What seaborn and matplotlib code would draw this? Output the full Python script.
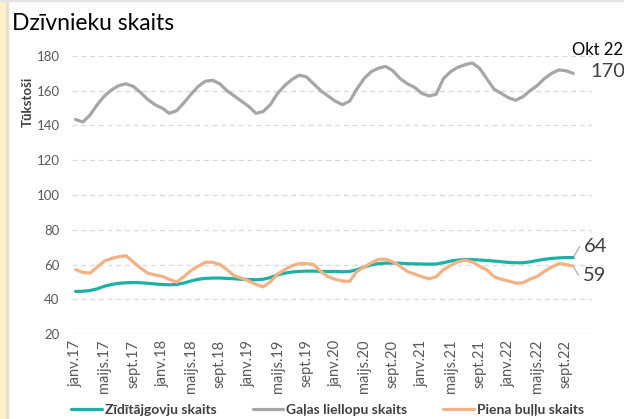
import numpy as np
import pandas as pd
import matplotlib
matplotlib.use("Agg")
import matplotlib.pyplot as plt
import seaborn as sns
from matplotlib.patches import Rectangle

# monthly data, janv.2017 - okt.2022 (thousands)
zidit = [44.5, 44.6, 45.0, 46.0, 47.5, 48.5, 49.2, 49.5, 49.6, 49.5, 49.2, 48.8,
         48.5, 48.3, 48.5, 49.3, 50.5, 51.5, 52.0, 52.2, 52.2, 52.0, 51.8, 51.5,
         51.3, 51.2, 51.5, 52.5, 54.0, 55.0, 55.7, 56.0, 56.2, 56.2, 56.0, 56.0,
         56.0, 55.8, 56.0, 57.0, 58.5, 59.8, 60.5, 60.8, 60.8, 60.7, 60.5, 60.4,
         60.3, 60.2, 60.3, 61.0, 62.0, 62.6, 62.8, 62.8, 62.6, 62.3, 62.0, 61.6,
         61.2, 61.0, 61.0, 61.5, 62.3, 63.0, 63.5, 63.8, 64.0, 64.0]
galas = [143.5, 142.0, 146.0, 152.0, 157.0, 160.5, 163.0, 164.0, 162.5, 159.0, 155.0, 152.0,
         150.0, 147.0, 148.5, 153.0, 158.0, 162.5, 165.5, 166.0, 164.0, 160.0, 157.0, 154.0,
         151.0, 147.0, 148.0, 152.0, 158.5, 163.0, 166.5, 169.0, 168.0, 164.0, 160.0, 157.0,
         154.0, 152.0, 154.0, 161.0, 167.0, 171.0, 173.0, 174.0, 171.5, 167.0, 164.0, 162.0,
         158.5, 157.0, 158.0, 167.0, 171.0, 173.5, 175.0, 176.0, 173.0, 167.0, 161.0, 158.5,
         156.0, 154.5, 156.5, 160.0, 163.0, 167.0, 170.0, 172.0, 171.5, 170.0]
piena = [57.0, 55.5, 55.0, 58.5, 62.0, 63.5, 64.5, 65.0, 61.5, 58.0, 55.0, 54.0,
         53.2, 51.5, 49.8, 53.0, 56.5, 59.0, 61.3, 61.3, 60.0, 57.0, 53.5, 52.2,
         50.5, 48.5, 47.1, 50.0, 54.5, 57.0, 59.3, 60.5, 60.5, 60.0, 56.0, 53.0,
         51.5, 50.5, 50.3, 56.0, 58.5, 61.0, 63.0, 63.0, 61.5, 59.0, 56.0, 54.5,
         53.0, 51.7, 53.0, 57.0, 59.5, 61.5, 62.5, 61.5, 59.0, 57.0, 53.0, 51.5,
         50.5, 49.3, 49.5, 51.5, 53.1, 56.0, 58.5, 60.5, 60.0, 59.0]

series_names = ["Zīdītājgovju skaits", "Gaļas liellopu skaits", "Piena buļļu skaits"]
colors = ["#1BB2A5", "#A6A6A6", "#F4B183"]
tick_labels = ["janv.17", "maijs.17", "sept.17", "janv.18", "maijs.18", "sept.18",
               "janv.19", "maijs.19", "sept.19", "janv.20", "maijs.20", "sept.20",
               "janv.21", "maijs.21", "sept.21", "janv.22", "maijs.22", "sept.22"]

n = len(zidit)
df = pd.DataFrame({
    "month": np.tile(np.arange(n), 3),
    "value": zidit + galas + piena,
    "series": np.repeat(series_names, n),
})

sns.set_style("white")
plt.rcParams["font.family"] = ["Lato", "DejaVu Sans"]

fig = plt.figure(figsize=(6.24, 4.19), dpi=100)
# beige strip at the left edge + thin top border
fig.patches.append(Rectangle((0, 0), 6 / 624, 1, transform=fig.transFigure,
                             color="#FFF2CC", zorder=0))
fig.patches.append(Rectangle((6 / 624, 0), 1.5 / 624, 1, transform=fig.transFigure,
                             color="#E6E0D0", zorder=0))
fig.patches.append(Rectangle((0, 1 - 1.5 / 419), 1, 1.5 / 419, transform=fig.transFigure,
                             color="#E3E3E3", zorder=0))

ax = fig.add_axes([72 / 624, 1 - 334 / 419, 520 / 624, 278 / 419])
sns.lineplot(data=df, x="month", y="value", hue="series", palette=colors,
             linewidth=2.3, ax=ax, legend=False)

ax.set_ylim(20, 180)
ax.set_xlim(-0.5, 71.6)
ax.set_yticks(range(20, 181, 20))
for y in range(40, 181, 20):
    ax.axhline(y, color="#D9D9D9", lw=0.9, ls=(0, (4, 3)), zorder=0)
ax.axhline(20, color="#D9D9D9", lw=1.0, zorder=0)
for s in ax.spines.values():
    s.set_visible(False)
ax.set_xticks(np.arange(0, n, 4))
ax.set_xticklabels(tick_labels, rotation=90, fontsize=10.5, color="#595959")
ax.tick_params(axis="y", labelsize=9.5, labelcolor="#595959", length=0, pad=9)
ax.tick_params(axis="x", length=0, pad=4)
ax.set_xlabel("")
ax.set_ylabel("")

fig.text(12 / 624, 1 - 23 / 419, "Dzīvnieku skaits", fontsize=16.5, color="black",
         va="center", ha="left")
fig.text(28 / 624, 1 - 102 / 419, "Tūkstoši", rotation=90, fontsize=9.5,
         fontweight="bold", color="#404040", va="center", ha="center")

# end labels
last = n - 1
ax.annotate("Okt 22", xy=(last, galas[-1]), xytext=(-1, 17), textcoords="offset points",
            fontsize=12, color="black", ha="left", va="center")
ax.annotate(f"{galas[-1]:.0f}", xy=(last, galas[-1]), xytext=(12, 1), textcoords="offset points",
            fontsize=14.5, color="#404040", ha="left", va="center")
ax.annotate(f"{zidit[-1]:.0f}", xy=(last, zidit[-1]), xytext=(8, 8), textcoords="offset points",
            fontsize=14.5, color="#404040", ha="left", va="center",
            arrowprops=dict(arrowstyle="-", color="#A6A6A6", lw=0.8, shrinkA=1, shrinkB=1,
                            connectionstyle="angle,angleA=0,angleB=60,rad=0"))
ax.annotate(f"{piena[-1]:.0f}", xy=(last, piena[-1]), xytext=(7, -7), textcoords="offset points",
            fontsize=14.5, color="#404040", ha="left", va="center",
            arrowprops=dict(arrowstyle="-", color="#A6A6A6", lw=0.8, shrinkA=1, shrinkB=1,
                            connectionstyle="angle,angleA=0,angleB=-60,rad=0"))

handles = [plt.Line2D([], [], color=c, lw=2.3) for c in colors]
fig.legend(handles, series_names, loc="lower center", bbox_to_anchor=(0.525, -0.022),
           ncol=3, frameon=False, handlelength=2.2, handletextpad=0.2,
           columnspacing=2.6, prop={"weight": "bold", "size": 10})
for t in fig.legends[0].get_texts():
    t.set_color("#404040")

fig.savefig("out.png", dpi=100)
